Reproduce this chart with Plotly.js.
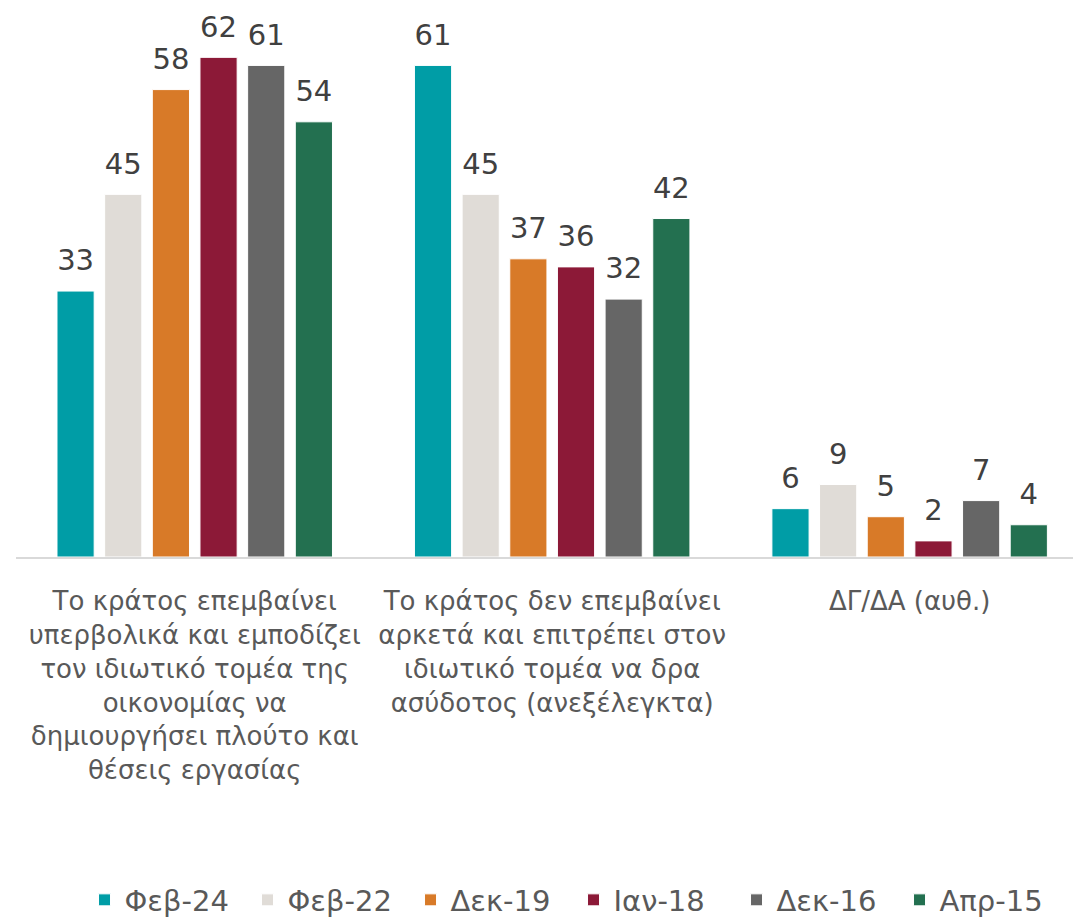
<!DOCTYPE html>
<html>
<head>
<meta charset="utf-8">
<script src="https://cdn.plot.ly/plotly-3.0.1.min.js"></script>
<style>
  html, body { margin: 0; padding: 0; background: #ffffff; }
  #grafico { width: 1073px; height: 918px; }
</style>
</head>
<body>
<div id="grafico"></div>
<script>
// Κατηγορίες (ετικέτες άξονα Χ)
const categorias = [
    'Το κράτος επεμβαίνει<br>υπερβολικά και εμποδίζει<br>τον ιδιωτικό τομέα της<br>οικονομίας να<br>δημιουργήσει πλούτο και<br>θέσεις εργασίας',
    'Το κράτος δεν επεμβαίνει<br>αρκετά και επιτρέπει στον<br>ιδιωτικό τομέα να δρα<br>ασύδοτος (ανεξέλεγκτα)',
    'ΔΓ/ΔΑ (αυθ.)'
];

// Σειρές (έρευνες)
const series = ['Φεβ-24', 'Φεβ-22', 'Δεκ-19', 'Ιαν-18', 'Δεκ-16', 'Απρ-15'];

// Τιμές ανά έρευνα
const feb24 = [33, 61, 6];
const feb22 = [45, 45, 9];
const dek19 = [58, 37, 5];
const ian18 = [62, 36, 2];
const dek16 = [61, 32, 7];
const apr15 = [54, 42, 4];

const valores = [feb24, feb22, dek19, ian18, dek16, apr15];
const colores = ['#009DA6', '#E0DCD7', '#D87A28', '#8C1937', '#666666', '#237050'];

const fuente = '"DejaVu Sans", "Noto Sans", sans-serif';

// Barras
const barras = series.map((nombre, i) => ({
    x: categorias,
    y: valores[i],
    name: nombre,
    type: 'bar',
    marker: {
        color: colores[i],
        line: { color: '#ffffff', width: 1 }
    },
    hoverinfo: 'name+y'
}));

// Etiquetas de valor encima de cada barra (marcador invisible para separarlas un poco)
const etiquetas = series.map((nombre, i) => ({
    x: categorias,
    y: valores[i],
    name: nombre,
    type: 'scatter',
    mode: 'markers+text',
    marker: { size: 20, opacity: 0 },
    text: valores[i].map(String),
    textposition: 'top center',
    textfont: { family: fuente, size: 29, color: '#404040' },
    cliponaxis: false,
    showlegend: false,
    hoverinfo: 'skip'
}));

const layout = {
    width: 1073,
    height: 918,
    margin: { l: 16, r: 0, t: 9, b: 361 },
    paper_bgcolor: '#ffffff',
    plot_bgcolor: '#ffffff',
    font: { family: fuente, color: '#595959' },
    barmode: 'group',
    bargap: 0.2,
    bargroupgap: 0.22,
    scattermode: 'group',
    scattergap: 0.2,
    showlegend: true,
    xaxis: {
        range: [-0.5, 2.457],
        showline: true,
        linecolor: '#D9D9D9',
        linewidth: 2,
        ticks: '',
        showgrid: false,
        tickfont: { family: fuente, size: 26, color: '#595959' },
        ticklabelstandoff: 20
    },
    yaxis: {
        range: [0, 68],
        showticklabels: false,
        showgrid: false,
        zeroline: false,
        showline: false
    },
    legend: {
        orientation: 'h',
        xref: 'container',
        yref: 'container',
        x: 0.5345,
        xanchor: 'center',
        y: 0.0196,
        yanchor: 'middle',
        entrywidth: 118,
        font: { family: fuente, size: 29, color: '#595959' },
        itemclick: false
    }
};

Plotly.newPlot('grafico', barras.concat(etiquetas), layout, { displayModeBar: false, staticPlot: true });
</script>
</body>
</html>
